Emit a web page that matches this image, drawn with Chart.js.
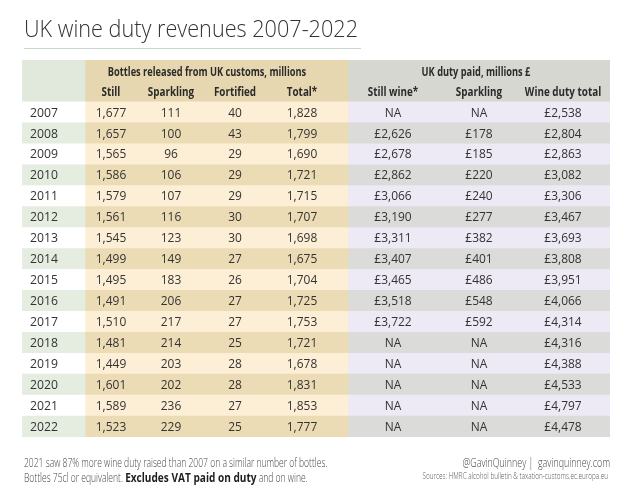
<!DOCTYPE html>
<html lang="en">
  <head>
    <meta charset="UTF-8" />
    <title>UK wine duty revenues 2007-2022</title>
    <script src="https://cdn.jsdelivr.net/npm/chart.js@4.4.1/dist/chart.umd.min.js"></script>
    <style>
      body {
        margin: 0;
        background: #fff;
      }
      .wrap {
        position: relative;
        width: 630px;
        height: 497px;
      }
    </style>
  </head>
  <body>
    <div class="wrap">
      <canvas id="dutyTable"></canvas>
    </div>

    <script>
      // Table data
      const years = [2007, 2008, 2009, 2010, 2011, 2012, 2013, 2014, 2015, 2016, 2017, 2018, 2019, 2020, 2021, 2022];
      const stillBottles = [1677, 1657, 1565, 1586, 1579, 1561, 1545, 1499, 1495, 1491, 1510, 1481, 1449, 1601, 1589, 1523];
      const sparklingBottles = [111, 100, 96, 106, 107, 116, 123, 149, 183, 206, 217, 214, 203, 202, 236, 229];
      const fortifiedBottles = [40, 43, 29, 29, 29, 30, 30, 27, 26, 27, 27, 25, 28, 28, 27, 25];
      const totalBottles = [1828, 1799, 1690, 1721, 1715, 1707, 1698, 1675, 1704, 1725, 1753, 1721, 1678, 1831, 1853, 1777];
      const stillDuty = [null, 2626, 2678, 2862, 3066, 3190, 3311, 3407, 3465, 3518, 3722, null, null, null, null, null];
      const sparklingDuty = [null, 178, 185, 220, 240, 277, 382, 401, 486, 548, 592, null, null, null, null, null];
      const totalDuty = [2538, 2804, 2863, 3082, 3306, 3467, 3693, 3808, 3951, 4066, 4314, 4316, 4388, 4533, 4797, 4478];

      const groupHeaders = ["Bottles released from UK customs, millions", "UK duty paid, millions £"];
      const bottleHeaders = ["Still", "Sparkling", "Fortified", "Total*"];
      const dutyHeaders = ["Still wine*", "Sparkling", "Wine duty total"];

      // Layout (x units = pixels from the table's left edge)
      const rowLabels = ["group", "sub"].concat(years.map(String));
      const blocks = [
        { from: 0, to: 63, head: "#e1e9dc", light: "#ffffff", dark: "#e5ece0" },
        { from: 63, to: 326, head: "#e7d7b0", light: "#fdefd6", dark: "#ecdcb6" },
        { from: 326, to: 588, head: "#d6d7d1", light: "#ede9f5", dark: "#dbdbd9" },
      ];
      const bottleCols = [89, 149, 213, 280];
      const dutyCols = [371, 457, 541];
      const groupCols = [185, 454];
      const yearX = 8;

      const fmt = (v) => v.toLocaleString("en-GB");
      const money = (v) => (v === null ? "NA" : "£" + fmt(v));

      function put(ctx, text, x, y, font, color, align, squeeze) {
        ctx.save();
        ctx.font = font;
        ctx.fillStyle = color;
        ctx.textAlign = align;
        ctx.textBaseline = "middle";
        ctx.translate(x, y);
        ctx.scale(squeeze || 1, 1);
        ctx.fillText(text, 0, 0);
        ctx.restore();
      }

      const datasets = blocks.map((b) => ({
        data: rowLabels.map(() => [b.from, b.to]),
        backgroundColor: rowLabels.map((r, i) =>
          i < 2 ? b.head : (i - 2) % 2 === 0 ? b.light : b.dark
        ),
        borderWidth: 0,
        barPercentage: 1,
        categoryPercentage: 1,
        grouped: false,
      }));

      const textPlugin = {
        id: "tableText",
        afterDatasetsDraw(chart) {
          const { ctx } = chart;
          const x = chart.scales.x;
          const y = chart.scales.y;
          const valueFont = "13px 'Open Sans'";
          const headFont = "bold 12.5px 'Open Sans'";
          const ink = "#333";

          // headers
          const gy = y.getPixelForValue(0) + 1.5;
          const sy = y.getPixelForValue(1) + 1.5;
          groupHeaders.forEach((t, i) =>
            put(ctx, t, x.getPixelForValue(groupCols[i]), gy, headFont, "#2b2b2b", "center", 0.74)
          );
          bottleHeaders.forEach((t, i) =>
            put(ctx, t, x.getPixelForValue(bottleCols[i]), sy, headFont, "#2b2b2b", "center", 0.79)
          );
          dutyHeaders.forEach((t, i) =>
            put(ctx, t, x.getPixelForValue(dutyCols[i]), sy, headFont, "#2b2b2b", "center", 0.79)
          );

          // rows
          years.forEach((yr, i) => {
            const py = y.getPixelForValue(i + 2) + 0.5;
            put(ctx, String(yr), x.getPixelForValue(yearX), py, valueFont, ink, "left", 0.94);
            const bottles = [stillBottles[i], sparklingBottles[i], fortifiedBottles[i], totalBottles[i]];
            bottles.forEach((v, j) =>
              put(ctx, fmt(v), x.getPixelForValue(bottleCols[j]), py, valueFont, ink, "center", 0.92)
            );
            const duty = [stillDuty[i], sparklingDuty[i], totalDuty[i]];
            duty.forEach((v, j) =>
              put(ctx, money(v), x.getPixelForValue(dutyCols[j]), py, valueFont, ink, "center", 0.92)
            );
          });
        },
        afterDraw(chart) {
          const { ctx } = chart;
          // title and rule
          ctx.save();
          ctx.font = "300 23px 'Open Sans'";
          ctx.fillStyle = "#333";
          ctx.textBaseline = "alphabetic";
          ctx.fillText("UK wine duty revenues 2007-2022", 24, 37, 334);
          ctx.strokeStyle = "#cbd6cf";
          ctx.lineWidth = 1;
          ctx.beginPath();
          ctx.moveTo(24, 48.5);
          ctx.lineTo(361, 48.5);
          ctx.stroke();
          ctx.restore();

          // footer notes
          const noteFont = "300 12px 'Open Sans'";
          const grey = "#444";
          put(ctx, "2021 saw 87% more wine duty raised than 2007 on a similar number of bottles.", 24, 464, noteFont, grey, "left", 0.71);

          const parts = [
            { t: "Bottles 75cl or equivalent. ", f: noteFont, s: 0.71, c: grey },
            { t: "Excludes VAT paid on duty", f: "bold 12px 'Open Sans'", s: 0.84, c: "#1e1e1e" },
            { t: " and on wine.", f: noteFont, s: 0.71, c: grey },
          ];
          let px = 24;
          parts.forEach((p) => {
            put(ctx, p.t, px, 479, p.f, p.c, "left", p.s);
            ctx.save();
            ctx.font = p.f;
            px += ctx.measureText(p.t).width * p.s;
            ctx.restore();
          });

          put(ctx, "@GavinQuinney |  gavinquinney.com", 610, 464, noteFont, grey, "right", 0.74);
          put(ctx, "Sources: HMRC alcohol bulletin & taxation-customs.ec.europa.eu", 608, 477, "300 8.5px 'Open Sans'", "#555", "right", 0.75);
        },
      };

      new Chart(document.getElementById("dutyTable"), {
        type: "bar",
        data: { labels: rowLabels, datasets: datasets },
        options: {
          indexAxis: "y",
          responsive: true,
          maintainAspectRatio: false,
          animation: false,
          layout: { padding: { left: 22, right: 20, top: 60, bottom: 60 } },
          scales: {
            x: { type: "linear", min: 0, max: 588, display: false },
            y: { type: "category", display: false, offset: true },
          },
          plugins: {
            legend: { display: false },
            tooltip: { enabled: false },
            title: { display: false },
          },
        },
        plugins: [textPlugin],
      });
    </script>
  </body>
</html>
